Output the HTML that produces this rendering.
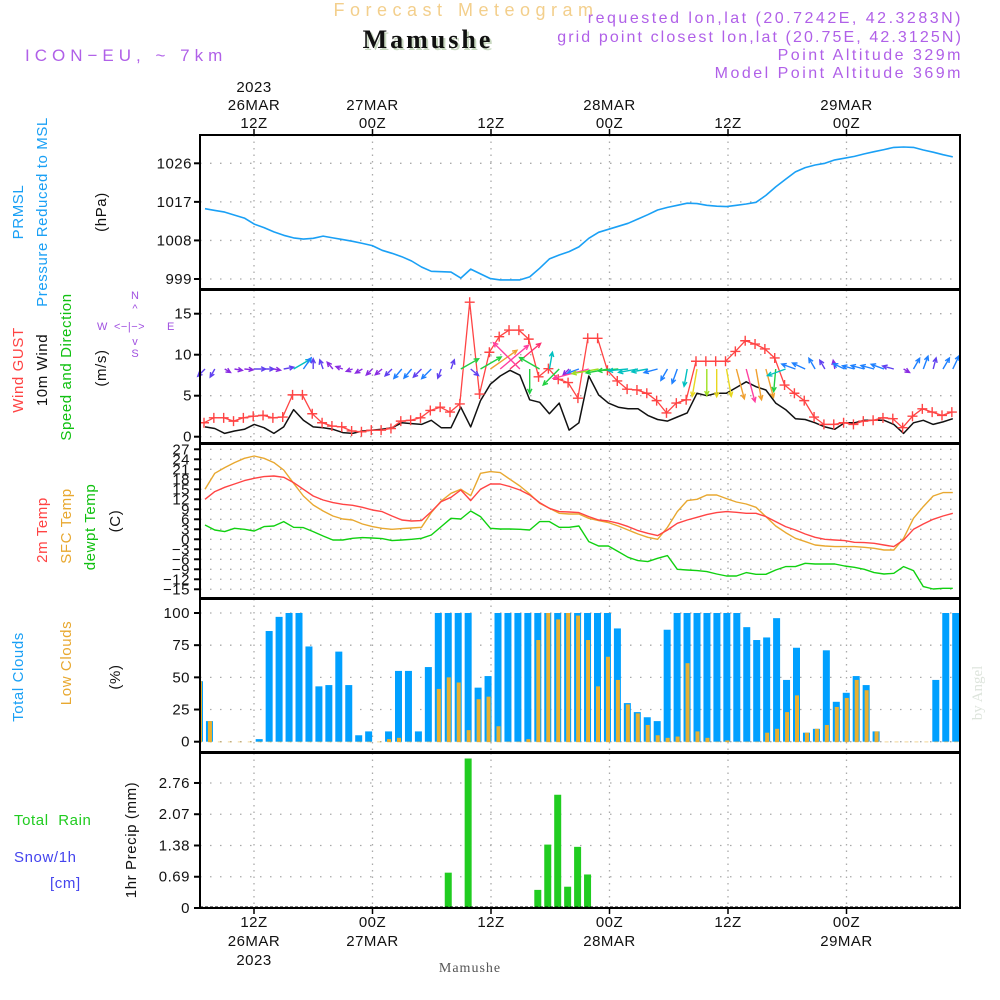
<!DOCTYPE html>
<html><head><meta charset="utf-8"><title>Forecast Meteogram Mamushe</title>
<style>
html,body{margin:0;padding:0;background:#fff;}
svg{display:block;font-family:"Liberation Sans",sans-serif;}
.tk{font-size:15px;fill:#111;letter-spacing:0.5px;}
.lab{font-size:15px;letter-spacing:0.6px;}
</style></head>
<body>
<svg id="chart" width="1000" height="1000" viewBox="0 0 1000 1000" xmlns="http://www.w3.org/2000/svg">
<g id="header">
<text x="466" y="16" text-anchor="middle" font-size="18" fill="#f3cf8c" letter-spacing="5.5">Forecast Meteogram</text>
<text x="430" y="50" text-anchor="middle" font-size="26" font-weight="bold" font-family="Liberation Serif, serif" fill="#c8d8c0" letter-spacing="3">Mamushe</text>
<text x="428" y="48" text-anchor="middle" font-size="26" font-weight="bold" font-family="Liberation Serif, serif" fill="#111" letter-spacing="3">Mamushe</text>
<text x="25" y="61" font-size="17" fill="#b060e8" letter-spacing="5">ICON−EU, ~ 7km</text>
<text x="963" y="23" text-anchor="end" font-size="16" fill="#b060e8" letter-spacing="2.5">requested lon,lat (20.7242E, 42.3283N)</text>
<text x="963" y="42" text-anchor="end" font-size="16" fill="#b060e8" letter-spacing="2.1">grid point closest lon,lat (20.75E, 42.3125N)</text>
<text x="963" y="60" text-anchor="end" font-size="16" fill="#b060e8" letter-spacing="2.5">Point Altitude 329m</text>
<text x="963" y="78" text-anchor="end" font-size="16" fill="#b060e8" letter-spacing="2.5">Model Point Altitude 369m</text>
</g>
<g id="grid"></g>
<g id="marks"></g>
<g id="frames"></g>
<g id="labels"></g>
</svg>
<script>
// ---- data (hourly, index 0..76) ----
const pressure = [1015.4,1015.0,1014.6,1013.9,1013.2,1011.8,1011.0,1010.0,1009.2,1008.6,1008.3,1008.5,1009.0,1008.6,1008.2,1007.8,1007.3,1006.8,1005.7,1005.0,1004.2,1003.2,1001.8,1000.8,1000.7,1000.6,999.2,1001.3,1000.2,999.1,998.8,998.8,998.8,999.5,1001.5,1003.7,1004.6,1005.4,1006.5,1008.5,1009.9,1010.6,1011.3,1012.0,1013.0,1014.0,1015.1,1015.7,1016.2,1016.7,1016.6,1016.2,1016.0,1015.9,1016.2,1016.5,1016.9,1018.5,1020.5,1022.3,1024.0,1025.0,1025.6,1026.0,1026.8,1027.2,1027.6,1028.2,1028.7,1029.2,1029.7,1029.8,1029.7,1029.1,1028.6,1028.0,1027.5];
const gust = [1.7,2.3,2.3,1.9,2.3,2.5,2.6,2.3,2.4,5.1,5.1,2.8,1.7,1.3,1.2,0.7,0.6,0.8,0.8,1.0,1.9,2.0,2.3,3.2,3.6,3.0,4.0,16.4,5.2,10.3,12.2,13.0,13.0,11.9,7.3,8.3,7.0,6.6,4.7,12.0,12.0,8.1,6.8,5.8,5.7,5.3,4.4,2.9,4.1,4.5,9.2,9.2,9.2,9.2,10.4,11.7,11.3,10.7,9.6,6.3,5.3,4.4,2.4,1.5,1.5,1.7,1.5,1.9,2.0,2.3,2.2,1.1,2.5,3.4,3.0,2.6,3.0];
const wind10 = [1.2,1.0,0.4,0.7,0.9,1.5,1.1,0.4,1.2,3.3,2.0,1.2,1.1,0.9,0.5,0.4,0.7,0.8,0.9,1.1,1.7,1.6,1.5,2.0,1.1,1.1,3.6,1.2,4.4,6.4,7.4,8.1,7.5,4.5,4.2,2.8,4.1,0.8,1.7,7.4,5.1,4.1,3.6,3.4,3.4,2.6,2.1,1.9,2.4,2.9,5.3,5.0,5.3,5.3,6.0,6.7,6.1,5.7,4.1,3.3,2.2,2.1,1.7,1.2,0.9,1.7,1.7,2.0,2.0,2.0,1.5,0.4,1.7,2.0,1.5,1.8,2.2];
const windDir = [225,210,120,100,95,90,90,100,80,60,35,0,340,320,290,250,240,225,230,225,220,220,225,225,200,20,60,130,60,55,50,50,315,180,300,10,225,225,250,255,260,260,265,265,260,260,255,210,200,190,190,180,180,170,165,165,170,165,185,250,290,295,330,330,350,295,285,285,285,290,285,120,30,20,15,30,25];
const temp2m = [12.0,14.3,15.6,16.6,17.6,18.3,18.8,19.0,18.6,17.0,15.0,13.0,11.8,11.0,10.5,10.2,9.6,8.8,8.3,7.0,5.8,5.5,5.6,8.3,11.3,12.6,14.8,11.6,15.0,16.6,16.6,15.8,14.8,13.3,11.0,9.3,8.3,8.2,8.0,6.8,5.8,5.5,4.8,3.8,2.6,1.8,1.1,2.8,4.8,5.8,6.6,7.4,8.0,8.3,8.1,7.8,7.8,6.8,5.3,3.8,2.8,1.6,0.6,0.0,-0.2,-0.4,-0.9,-1.0,-1.2,-1.7,-2.2,-0.2,3.0,4.6,6.0,7.0,7.8];
const tempSfc = [15.0,19.8,21.5,23.0,24.3,25.0,24.3,23.0,20.8,16.8,13.0,10.3,8.5,7.0,6.1,5.8,4.6,3.8,3.3,3.0,3.2,3.4,3.6,8.0,11.5,13.8,15.0,13.1,19.8,20.3,20.0,18.0,16.0,13.6,10.8,9.3,7.8,7.6,7.6,6.3,5.6,5.0,4.0,2.8,1.6,0.6,0.0,3.6,8.3,11.6,12.0,13.3,13.3,12.2,11.2,10.6,9.6,6.8,4.0,2.0,0.3,-0.7,-1.7,-2.0,-2.2,-2.2,-2.2,-2.4,-2.7,-3.2,-3.2,0.3,6.3,9.8,13.0,14.0,14.0];
const dewpt = [4.3,2.8,2.3,3.3,3.0,2.5,3.8,4.0,5.3,3.6,3.5,2.3,1.0,-0.2,-0.2,0.3,0.5,0.4,0.2,-0.4,-0.2,0.0,0.3,1.3,3.8,6.3,6.1,8.5,6.8,3.3,3.1,3.1,3.0,2.8,5.3,5.3,3.6,3.6,4.0,-0.7,-2.0,-2.0,-3.7,-5.4,-6.4,-6.7,-5.7,-4.9,-9.0,-9.2,-9.4,-9.7,-10.4,-11.0,-11.0,-10.0,-10.5,-10.5,-9.2,-8.2,-8.2,-7.2,-7.4,-7.4,-7.4,-8.0,-8.4,-9.0,-10.0,-10.4,-10.2,-8.2,-9.4,-14.2,-14.9,-14.7,-14.7];
const totalClouds = [47,16,0,0,0,0,2,86,97,100,100,74,43,44,70,44,5,8,0,8,55,55,8,58,100,100,100,100,42,51,100,100,100,100,100,100,100,100,100,100,100,100,88,30,23,19,16,87,100,100,100,100,100,100,100,89,79,81,96,48,73,7,10,71,31,38,51,44,8,0,0,0,0,0,48,100,100];
const lowClouds = [47,16,0,0,0,0,0,0,0,0,0,0,0,0,0,0,0,0,0,2,3,0,0,0,41,50,46,9,33,35,12,0,0,2,79,100,95,100,98,79,43,66,48,29,22,13,5,3,4,61,8,3,0,1,0,0,0,7,10,23,36,7,10,13,27,34,48,40,8,0,0,0,0,0,0,0,0];
const precip = [0,0,0,0,0,0,0,0,0,0,0,0,0,0,0,0,0,0,0,0,0,0,0,0,0.02,0.78,0,3.3,0,0,0,0,0,0,0.4,1.4,2.5,0.47,1.35,0.74,0,0,0,0,0,0,0,0,0,0,0,0,0,0,0,0,0,0,0,0,0,0,0,0,0,0,0,0,0,0,0,0,0,0,0,0,0];
const pressureTicks = [999,1008,1017,1026];
const windTicks = [0,5,10,15];
const tempTicks = [27,24,21,18,15,12,9,6,3,0,-3,-6,-9,-12,-15];
const cloudTicks = [0,25,50,75,100];
const precipTicks = [0,0.69,1.38,2.07,2.76];
const timeTickHours = [6,18,30,42,54,66];
const topTimeLabels = [["2023","26MAR","12Z"],["","27MAR","00Z"],["","","12Z"],["","28MAR","00Z"],["","","12Z"],["","29MAR","00Z"]];
const bottomTimeLabels = [["12Z","26MAR","2023"],["00Z","27MAR",""],["12Z","",""],["00Z","28MAR",""],["12Z","",""],["00Z","29MAR",""]];

// ---- axes ----
const NS="http://www.w3.org/2000/svg";
const L=200,R=960;
const xt = h => 254 + (h-6)*9.875;
const xs = k => 205 + k*9.84;
const xb = k => 199.5 + k*9.95;
const yP = p => 163.3 + (1026-p)*4.285;
const yW = v => 436.7 - v*8.2;
const yT = t => 449.3 + (27-t)*3.333;
const yC = c => 741.7 - c*1.287;
const yR = r => 908 - r*45.3;
const panels=[[135,289],[290,443],[444,598],[599,752],[753,908]];

function el(tag,attrs,parent){const e=document.createElementNS(NS,tag);for(const k in attrs)e.setAttribute(k,attrs[k]);parent.appendChild(e);return e;}
const G=document.getElementById('grid'),M=document.getElementById('marks'),F=document.getElementById('frames'),LB=document.getElementById('labels');

panels.forEach(([t,b])=>{
  timeTickHours.forEach(h=>{
    const g=el('line',{x1:xt(h),x2:xt(h),y1:t,y2:b,stroke:'#aaa','stroke-width':1.3,'stroke-dasharray':'1.5,5'},G);
    
    
  });
});
function hgrid(ticks,yf,fmt,x0,fs){
  ticks.forEach(v=>{
    const y=yf(v);
    const g=el('line',{x1:L,x2:R,y1:y,y2:y,stroke:'#aaa','stroke-width':1.3,'stroke-dasharray':'1.5,8.5'},G);
    
    
    const tk=el('line',{x1:L-6,x2:L,y1:y,y2:y,stroke:'#000','stroke-width':2},F);
    
    
    const tx=el('text',{x:x0,y:y+5,'text-anchor':'end',class:'tk','font-size':fs},LB);
    tx.textContent=fmt(v);
    
    
  });
}
hgrid(pressureTicks,yP,v=>String(v),192,15);
hgrid(windTicks,yW,v=>String(v),192,15);
hgrid(tempTicks,yT,v=>(v<0?'−':'')+Math.abs(v),190,13.5);
hgrid(cloudTicks,yC,v=>String(v),190,15);
hgrid(precipTicks,yR,v=>v===0?'0':v.toFixed(2),190,15);

function poly(vals,xf,yf,color,w,name){
  const pts=vals.map((v,k)=>xf(k).toFixed(1)+','+yf(v).toFixed(1)).join(' ');
  const p=el('polyline',{points:pts,fill:'none',stroke:color,'stroke-width':w,'stroke-linejoin':'round'},M);
  
  
}
poly(pressure,xs,yP,'#1aa0f5',1.6,'pressure-line');
poly(wind10,xs,yW,'#111',1.5,'wind-10m-line');
poly(gust,k=>xs(k)-1,yW,'#ff4444',1.3,'gust-line');
gust.forEach((v,k)=>{
  const x=xs(k)-1,y=yW(v);
  const m=el('path',{d:`M${x-5},${y}H${x+5}M${x},${y-5}V${y+5}`,stroke:'#ff4444','stroke-width':1.4},M);
  
  
});
function arrowColor(s){
  if(s<1.0) return '#8a2be2';
  if(s<1.6) return '#6040f0';
  if(s<2.6) return '#1e80ff';
  if(s<3.5) return '#00c0c0';
  if(s<4.6) return '#20d040';
  if(s<5.2) return '#a0e020';
  if(s<5.6) return '#e8d820';
  if(s<6.5) return '#f0a030';
  if(s<7.6) return '#ff40a0';
  return '#ff3070';
}
windDir.forEach((d,k)=>{
  const s=wind10[k],Ln=5+4.3*s,a=d*Math.PI/180;
  const x0=xs(k),y0=369;
  const x1=x0+Ln*Math.sin(a),y1=y0-Ln*Math.cos(a);
  const h1=a+Math.PI-0.45,h2=a+Math.PI+0.45,hl=5;
  const c=arrowColor(s);
  const p=el('path',{d:`M${x0.toFixed(1)},${y0}L${x1.toFixed(1)},${y1.toFixed(1)}M${(x1+hl*Math.sin(h1)).toFixed(1)},${(y1-hl*Math.cos(h1)).toFixed(1)}L${x1.toFixed(1)},${y1.toFixed(1)}L${(x1+hl*Math.sin(h2)).toFixed(1)},${(y1-hl*Math.cos(h2)).toFixed(1)}`,stroke:c,'stroke-width':1.4,fill:'none'},M);
  
  
});
poly(tempSfc,xs,yT,'#e8a830',1.4,'sfc-temp-line');
poly(temp2m,xs,yT,'#ff4444',1.4,'2m-temp-line');
poly(dewpt,xs,yT,'#10d010',1.4,'dewpoint-line');
totalClouds.forEach((v,k)=>{
  let x=xb(k)-3.5,w=7; if(x<L){w-=L-x;x=L;} if(x+w>R)w=R-x;
  const r=el('rect',{x:x,y:yC(v),width:w,height:yC(0)-yC(v),fill:'#00a0ff'},M);
  
  
});
lowClouds.forEach((v,k)=>{
  let x=xb(k)-1.5,w=4; if(x<L){w-=L-x;x=L;}
  const r=el('rect',{x:x,y:yC(v),width:Math.max(w,0),height:yC(0)-yC(v)+0.5,fill:'#e8b030'},M);
  
  
});
precip.forEach((v,k)=>{
  if(v<=0) return;
  const r=el('rect',{x:xb(k)-3.5,y:yR(v),width:7,height:yR(0)-yR(v),fill:'#20cc20'},M);
  
  
});
const base=el('line',{x1:L,x2:R,y1:907,y2:907,stroke:'#000','stroke-width':1,'stroke-dasharray':'3,2'},M);



panels.forEach(([t,b])=>{
  const r=el('rect',{x:L,y:t,width:R-L,height:b-t,fill:'none',stroke:'#000','stroke-width':2},F);
  
  
});
timeTickHours.forEach((h,i)=>{
  const x=xt(h);
  const t1=el('line',{x1:x,x2:x,y1:129,y2:135,stroke:'#000','stroke-width':1.5},F);
  
  
  const t2=el('line',{x1:x,x2:x,y1:908,y2:914,stroke:'#000','stroke-width':1.5},F);
  
  
  topTimeLabels[i].forEach((s,j)=>{ if(!s) return;
    const t=el('text',{x:x,y:92+j*18,'text-anchor':'middle',class:'tk','font-size':16},LB);
    t.textContent=s;
    
    
  });
  bottomTimeLabels[i].forEach((s,j)=>{ if(!s) return;
    const t=el('text',{x:x,y:927+j*19,'text-anchor':'middle',class:'tk','font-size':16},LB);
    t.textContent=s;
    
    
  });
});
</script>
<div style="position:absolute;left:0;top:0;width:1000px;height:1000px;pointer-events:none;">
<svg width="1000" height="1000" style="position:absolute;left:0;top:0" font-family="Liberation Sans, sans-serif">
<g font-size="15" letter-spacing="0.6">
<text transform="translate(23,212) rotate(-90)" text-anchor="middle" fill="#1aa0f5">PRMSL</text>
<text transform="translate(47,212) rotate(-90)" text-anchor="middle" fill="#1aa0f5">Pressure Reduced to MSL</text>
<text transform="translate(106,212) rotate(-90)" text-anchor="middle" fill="#111">(hPa)</text>
<text transform="translate(23,370) rotate(-90)" text-anchor="middle" fill="#ff4444">Wind GUST</text>
<text transform="translate(47,370) rotate(-90)" text-anchor="middle" fill="#111">10m Wind</text>
<text transform="translate(71,367) rotate(-90)" text-anchor="middle" fill="#10c010">Speed and Direction</text>
<text transform="translate(106,368) rotate(-90)" text-anchor="middle" fill="#111">(m/s)</text>
<text transform="translate(47,530) rotate(-90)" text-anchor="middle" fill="#ff4444">2m Temp</text>
<text transform="translate(71,526) rotate(-90)" text-anchor="middle" fill="#e8a830">SFC Temp</text>
<text transform="translate(95,527) rotate(-90)" text-anchor="middle" fill="#10c010">dewpt Temp</text>
<text transform="translate(120,521) rotate(-90)" text-anchor="middle" fill="#111">(C)</text>
<text transform="translate(23,677) rotate(-90)" text-anchor="middle" fill="#1aa0f5">Total Clouds</text>
<text transform="translate(71,663) rotate(-90)" text-anchor="middle" fill="#e8a830">Low Clouds</text>
<text transform="translate(120,677) rotate(-90)" text-anchor="middle" fill="#111">(%)</text>
<text transform="translate(136,840) rotate(-90)" text-anchor="middle" fill="#111">1hr Precip (mm)</text>
<text x="14" y="825" fill="#20cc20" xml:space="preserve">Total  Rain</text>
<text x="14" y="862" fill="#4444ee">Snow/1h</text>
<text x="50" y="888" fill="#4444ee">[cm]</text>
</g>
<g font-size="11" fill="#a050e0">
<text x="135" y="299" text-anchor="middle">N</text>
<text x="135" y="312" text-anchor="middle">^</text>
<text x="97" y="330">W</text>
<text x="114" y="330" letter-spacing="0.5">&lt;−|−&gt;</text>
<text x="167" y="330">E</text>
<text x="135" y="345" text-anchor="middle">v</text>
<text x="135" y="357" text-anchor="middle">S</text>
</g>
<text x="470" y="972" text-anchor="middle" font-size="14" font-family="Liberation Serif, serif" fill="#555" letter-spacing="1">Mamushe</text>
<text transform="translate(982,693) rotate(-90)" text-anchor="middle" font-size="15" font-family="Liberation Serif, serif" fill="#dde4dc">by Angel</text>
</svg>
</div>
</body></html>
